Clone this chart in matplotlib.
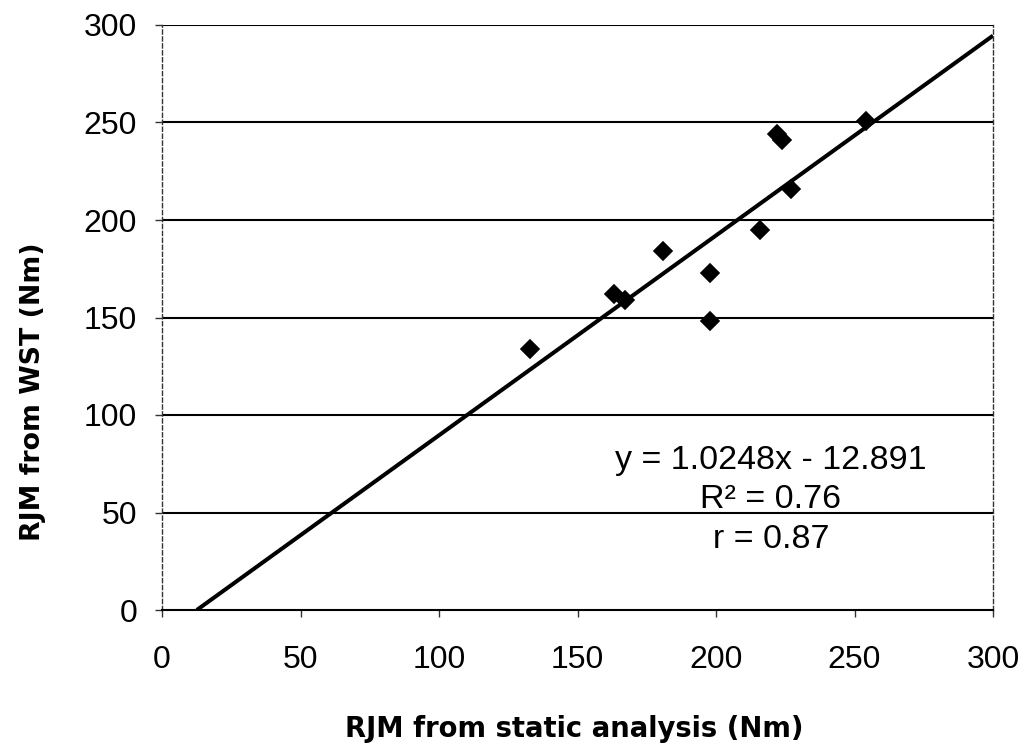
import matplotlib
matplotlib.use("Agg")
import matplotlib.pyplot as plt
import numpy as np

# ---- data ----
x_static = [133, 163, 167, 181, 198, 198, 216, 222, 224, 227, 254]
y_wst = [134, 162, 159, 184, 173, 148, 195, 244, 241, 216, 251]
trend_slope = 1.0248
trend_intercept = -12.891
x_ticks = [0, 50, 100, 150, 200, 250, 300]
y_ticks = [0, 50, 100, 150, 200, 250, 300]
eq_lines = ["y = 1.0248x - 12.891", "R\u00b2 = 0.76", "r = 0.87"]
x_label = "RJM from static analysis (Nm)"
y_label = "RJM from WST (Nm)"

W, H = 1021, 743
fig = plt.figure(figsize=(W / 100, H / 100), dpi=100)
ax = fig.add_axes([162 / W, 1 - 610 / H, (993 - 162) / W, (610 - 25) / H])

ax.set_xlim(0, 300)
ax.set_ylim(0, 300)

# horizontal gridlines
for yv in y_ticks[1:]:
    ax.axhline(yv, color="black", lw=1.5, zorder=1)

# spines
ax.spines["top"].set_visible(False)
ax.spines["bottom"].set_color("black")
ax.spines["bottom"].set_linewidth(1.5)
for s in ["left", "right"]:
    ax.spines[s].set_color("#333333")
    ax.spines[s].set_linewidth(1.0)
    ax.spines[s].set_linestyle((0, (3, 2)))

# trendline
x0 = -trend_intercept / trend_slope
xl = np.array([x0, 300])
ax.plot(xl, trend_slope * xl + trend_intercept, color="black", lw=2.9,
        solid_capstyle="butt", zorder=3)

# points
ax.plot(x_static, y_wst, linestyle="none", marker="D", ms=9.5,
        color="black", mec="black", mew=1.2, zorder=4)

ax.set_xticks(x_ticks)
ax.set_yticks(y_ticks)
ax.set_xticklabels([str(v) for v in x_ticks])
ax.set_yticklabels([str(v) for v in y_ticks])
ax.tick_params(axis="both", direction="out", length=5, width=1, color="#333333",
               labelsize=23, labelcolor="black")
ax.tick_params(axis="x", pad=20)
ax.tick_params(axis="y", pad=13)
for lbl in ax.get_xticklabels() + ax.get_yticklabels():
    lbl.set_family("Liberation Sans")

# equation text
xc = (771 - 162) / 2.77
base_px = [469, 508, 548]
for txt, b in zip(eq_lines, base_px):
    ax.text(xc, (610 - b) / 1.95, txt, ha="center", va="baseline",
            fontsize=24.5, family="Liberation Sans", color="black", zorder=5)

# axis labels
fig.text(574 / W, 1 - 737 / H, x_label, ha="center", va="baseline",
         fontsize=19.8, fontweight="bold", family="DejaVu Sans")
fig.text(40 / W, 1 - 392 / H, y_label, ha="center", va="baseline",
         rotation=90, rotation_mode="anchor",
         fontsize=19.3, fontweight="bold", family="DejaVu Sans")

fig.savefig("out.png", dpi=100, facecolor="white")
